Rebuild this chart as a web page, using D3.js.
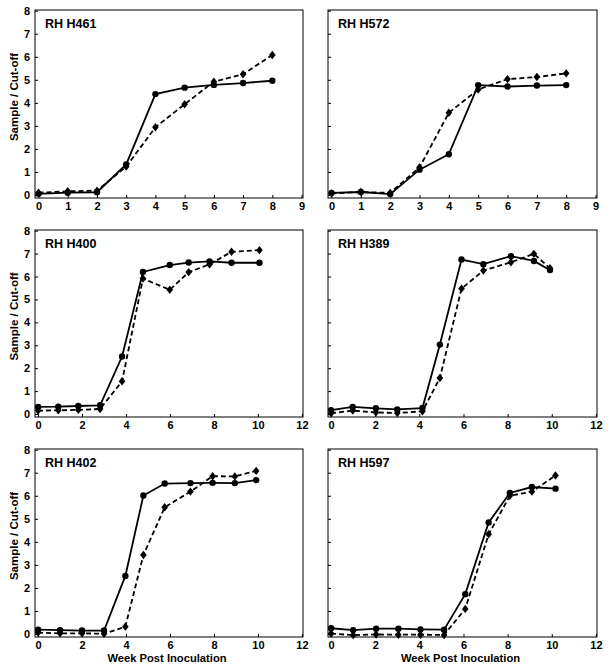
<!DOCTYPE html>
<html>
<head>
<meta charset="utf-8">
<script src="https://cdn.jsdelivr.net/npm/d3@7/dist/d3.min.js"></script>
<style>
  html, body { margin: 0; padding: 0; background: #fff; }
  svg { display: block; }
  text { font-family: "Liberation Sans", Arial, Helvetica, sans-serif; font-weight: bold; fill: #000; }
</style>
</head>
<body>
<svg id="chart" width="609" height="670"></svg>
<script>
// ---------- DATA ----------
const panelNames = ["RH H461", "RH H572", "RH H400", "RH H389", "RH H402", "RH H597"];

const h461Weeks  = [0, 1, 2, 3, 4, 5, 6, 7, 8];
const h461Solid  = [0.05, 0.10, 0.12, 1.33, 4.38, 4.66, 4.78, 4.86, 4.96];
const h461Dashed = [0.10, 0.16, 0.19, 1.23, 2.94, 3.94, 4.92, 5.24, 6.08];

const h572Weeks  = [0, 1, 2, 3, 4, 5, 6, 7, 8];
const h572Solid  = [0.09, 0.13, 0.04, 1.10, 1.77, 4.77, 4.71, 4.75, 4.77];
const h572Dashed = [0.07, 0.13, 0.09, 1.20, 3.57, 4.58, 5.03, 5.12, 5.28];

const h400Weeks  = [0, 0.92, 1.83, 2.82, 3.82, 4.77, 5.99, 6.85, 7.80, 8.80, 10.07];
const h400Solid  = [0.31, 0.32, 0.35, 0.38, 2.51, 6.20, 6.50, 6.61, 6.66, 6.60, 6.60];
const h400Dashed = [0.15, 0.16, 0.18, 0.22, 1.43, 5.91, 5.42, 6.19, 6.53, 7.08, 7.15];

const h389Weeks  = [0, 0.98, 2.03, 3.00, 4.14, 4.93, 5.91, 6.90, 8.15, 9.19, 9.92];
const h389Solid  = [0.17, 0.31, 0.25, 0.20, 0.26, 3.03, 6.74, 6.54, 6.89, 6.68, 6.28];
const h389Dashed = [0.03, 0.15, 0.07, 0.04, 0.12, 1.57, 5.47, 6.26, 6.62, 6.99, 6.36];

const h402Weeks  = [0, 1, 2, 3, 3.97, 4.79, 5.76, 6.93, 7.94, 8.95, 9.92];
const h402Solid  = [0.19, 0.17, 0.15, 0.15, 2.52, 6.01, 6.53, 6.55, 6.56, 6.55, 6.68];
const h402Dashed = [0.06, 0.03, 0.03, 0.01, 0.32, 3.43, 5.50, 6.18, 6.85, 6.84, 7.08];

const h597Weeks  = [0, 1, 2.04, 3.05, 4.05, 5.12, 6.08, 7.14, 8.10, 9.10, 10.17];
const h597Solid  = [0.25, 0.17, 0.23, 0.23, 0.20, 0.19, 1.73, 4.84, 6.12, 6.38, 6.31];
const h597Dashed = [0.02, -0.05, -0.02, -0.03, -0.03, -0.04, 1.09, 4.33, 6.00, 6.18, 6.88];

const yTicks      = [0, 1, 2, 3, 4, 5, 6, 7, 8];
const xTicksTop   = [0, 1, 2, 3, 4, 5, 6, 7, 8, 9];
const xTicksLower = [0, 2, 4, 6, 8, 10, 12];

const yLabel = "Sample / Cut-off";
const xLabel = "Week Post Inoculation";

// ---------- LAYOUT ----------
const cols = [{x0: 35, x1: 303}, {x0: 328, x1: 597}];
const rows = [{y0: 10, y1: 198}, {y0: 230, y1: 417}, {y0: 449, y1: 637}];

const panels = [
  {name: panelNames[0], weeks: h461Weeks, solid: h461Solid, dashed: h461Dashed, xMax: 9,  xTicks: xTicksTop,   c: 0, r: 0},
  {name: panelNames[1], weeks: h572Weeks, solid: h572Solid, dashed: h572Dashed, xMax: 9,  xTicks: xTicksTop,   c: 1, r: 0},
  {name: panelNames[2], weeks: h400Weeks, solid: h400Solid, dashed: h400Dashed, xMax: 12, xTicks: xTicksLower, c: 0, r: 1},
  {name: panelNames[3], weeks: h389Weeks, solid: h389Solid, dashed: h389Dashed, xMax: 12, xTicks: xTicksLower, c: 1, r: 1},
  {name: panelNames[4], weeks: h402Weeks, solid: h402Solid, dashed: h402Dashed, xMax: 12, xTicks: xTicksLower, c: 0, r: 2},
  {name: panelNames[5], weeks: h597Weeks, solid: h597Solid, dashed: h597Dashed, xMax: 12, xTicks: xTicksLower, c: 1, r: 2}
];

const svg = d3.select("#chart");
const diamond = "M0,-4.2L3.3,0L0,4.2L-3.3,0Z";

panels.forEach(p => {
  const col = cols[p.c], row = rows[p.r];
  const x = d3.scaleLinear()
    .domain([p.xMax === 9 ? -0.12 : -0.14, p.xMax + 0.05])
    .range([col.x0, col.x1]);
  const y = d3.scaleLinear().domain([-0.13, 8.03]).range([row.y1, row.y0]);

  const g = svg.append("g");

  // frame
  g.append("rect")
    .attr("x", col.x0).attr("y", row.y0)
    .attr("width", col.x1 - col.x0).attr("height", row.y1 - row.y0)
    .attr("fill", "none").attr("stroke", "#000").attr("stroke-width", 1);

  // y axis (inward ticks)
  const yAxis = d3.axisLeft(y).tickValues(yTicks).tickSizeInner(-3).tickSizeOuter(0)
    .tickPadding(5).tickFormat(p.c === 0 ? d3.format("d") : () => "");
  const ya = g.append("g").attr("transform", `translate(${col.x0},0)`).call(yAxis);
  ya.select(".domain").remove();
  ya.selectAll(".tick line").attr("stroke", "#000");
  ya.selectAll(".tick text")
    .style("font-size", "11px").style("font-weight", "bold")
    .style("font-family", '"Liberation Sans", Arial, sans-serif');

  // x axis (inward ticks)
  const xAxis = d3.axisBottom(x).tickValues(p.xTicks).tickSizeInner(-3).tickSizeOuter(0)
    .tickPadding(6).tickFormat(d3.format("d"));
  const xa = g.append("g").attr("transform", `translate(0,${row.y1})`).call(xAxis);
  xa.select(".domain").remove();
  xa.selectAll(".tick line").attr("stroke", "#000");
  xa.selectAll(".tick text")
    .attr("y", 12).attr("dy", "0")
    .style("font-size", "11px").style("font-weight", "bold")
    .style("font-family", '"Liberation Sans", Arial, sans-serif');

  // title
  g.append("text")
    .attr("x", col.x0 + 10).attr("y", row.y0 + 18)
    .style("font-size", "12.5px")
    .text(p.name);

  // y label
  if (p.c === 0) {
    const cy = (row.y0 + row.y1) / 2 - 7;
    g.append("text")
      .attr("transform", `translate(18,${cy}) rotate(-90)`)
      .attr("text-anchor", "middle")
      .style("font-size", "11.5px")
      .text(yLabel);
  }
  // x label
  if (p.r === 2) {
    g.append("text")
      .attr("x", (col.x0 + col.x1) / 2 - 2).attr("y", 662)
      .attr("text-anchor", "middle")
      .style("font-size", "11.2px")
      .text(xLabel);
  }

  const pts = k => p.weeks.map((w, i) => [w, p[k][i]]);
  const line = d3.line().x(d => x(d[0])).y(d => y(d[1]));

  // dashed series (diamonds)
  g.append("path").datum(pts("dashed"))
    .attr("d", line).attr("fill", "none").attr("stroke", "#000")
    .attr("stroke-width", 1.8).attr("stroke-dasharray", "5,3");
  g.selectAll(".dia").data(pts("dashed")).enter().append("path")
    .attr("d", diamond)
    .attr("transform", d => `translate(${x(d[0])},${y(d[1])})`)
    .attr("fill", "#000");

  // solid series (circles)
  g.append("path").datum(pts("solid"))
    .attr("d", line).attr("fill", "none").attr("stroke", "#000")
    .attr("stroke-width", 1.8);
  g.selectAll(".dot").data(pts("solid")).enter().append("circle")
    .attr("cx", d => x(d[0])).attr("cy", d => y(d[1])).attr("r", 3.2)
    .attr("fill", "#000");
});
</script>
</body>
</html>
